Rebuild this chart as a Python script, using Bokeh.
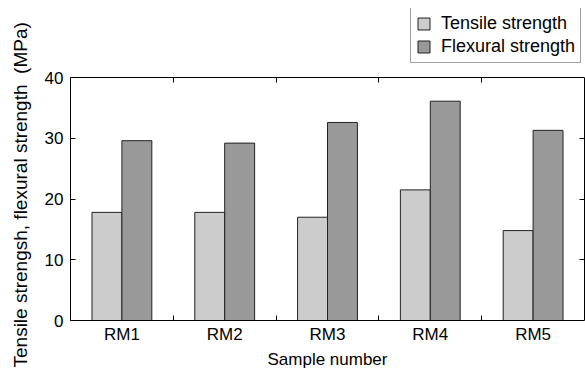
from bokeh.plotting import figure
from bokeh.models import (Range1d, LinearAxis, FixedTicker, Legend, LegendItem,
                          ColumnDataSource, Title)
from bokeh.transform import dodge
from bokeh.embed import file_html
from bokeh.resources import INLINE

samples = ["RM1", "RM2", "RM3", "RM4", "RM5"]
tensile = [17.8, 17.8, 17.0, 21.5, 14.8]
flexural = [29.6, 29.2, 32.6, 36.1, 31.3]
y_ticks = [0, 10, 20, 30, 40]
y_max = 40

FONT = "Liberation Sans"
centers = [i + 0.5 for i in range(len(samples))]
bounds = [i for i in range(1, len(samples))]

# layout (pixels): axis box spans 77..320 vertically; frame extended upward so the
# legend (which lives inside the frame) can sit above the axis box
W, H = 585, 372
TOP_BORDER, BOTTOM_BORDER = 8, 52
box_top, box_bottom = 77, H - BOTTOM_BORDER
frame_h = box_bottom - TOP_BORDER
y_end = y_max * frame_h / (box_bottom - box_top)

src = ColumnDataSource(dict(x=centers, tensile=tensile, flexural=flexural, name=samples))

p = figure(width=W, height=H, output_backend="svg", toolbar_location=None,
           x_range=Range1d(0, len(samples)), y_range=Range1d(0, y_end),
           x_axis_location=None, y_axis_location=None,
           min_border_left=69, min_border_right=1, min_border_top=TOP_BORDER,
           min_border_bottom=BOTTOM_BORDER)
p.grid.visible = False
p.outline_line_color = None
p.background_fill_color = "white"
p.border_fill_color = "white"

bw = 0.291
r1 = p.vbar(x=dodge("x", -bw / 2, range=p.x_range), top="tensile", bottom=0, width=bw,
            source=src, fill_color="#cccccc", line_color="#222222", line_width=1)
r2 = p.vbar(x=dodge("x", bw / 2, range=p.x_range), top="flexural", bottom=0, width=bw,
            source=src, fill_color="#999999", line_color="#222222", line_width=1)

# bottom axis: labels at category centres, inward ticks at category boundaries
xb = LinearAxis(ticker=FixedTicker(ticks=centers, minor_ticks=bounds))
xb.major_label_overrides = {c: s for c, s in zip(centers, samples)}
xb.major_tick_line_color = None
xb.major_tick_in = 0
xb.major_tick_out = 0
xb.minor_tick_in = 5
xb.minor_tick_out = 0
xb.minor_tick_line_color = "black"
xb.axis_line_color = "black"
xb.major_label_text_font = FONT
xb.major_label_text_font_size = "17px"
xb.major_label_text_color = "black"
xb.major_label_text_line_height = 1.0
xb.major_label_standoff = 4
xb.axis_label = "Sample number"
xb.axis_label_text_font = FONT
xb.axis_label_text_font_size = "17px"
xb.axis_label_text_font_style = "normal"
xb.axis_label_text_color = "black"
xb.axis_label_text_line_height = 1.0
xb.axis_label_standoff = 3
p.add_layout(xb, "below")

# top edge of the axis box at y = 40 with inward ticks
xt = LinearAxis(ticker=FixedTicker(ticks=[], minor_ticks=bounds), fixed_location=y_max)
xt.minor_tick_in = 5
xt.minor_tick_out = 0
xt.minor_tick_line_color = "black"
xt.major_tick_line_color = None
xt.axis_line_color = "black"
xt.major_label_standoff = 0
p.add_layout(xt, "above")

# left axis
yl = LinearAxis(ticker=FixedTicker(ticks=y_ticks, minor_ticks=[]), bounds=(0, y_max))
yl.major_tick_in = 5
yl.major_tick_out = 0
yl.major_tick_line_color = "black"
yl.minor_tick_line_color = None
yl.axis_line_color = "black"
yl.major_label_text_font = FONT
yl.major_label_text_font_size = "17px"
yl.major_label_text_color = "black"
yl.major_label_standoff = 7
p.add_layout(yl, "left")

# y-axis title, placed relative to the axis box
ytitle = Title(text="Tensile strengsh, flexural strength \u00a0(MPa)", align="left",
               vertical_align="top", offset=-47, text_font=FONT, text_font_size="19px",
               text_font_style="normal", text_color="black", standoff=18)
p.add_layout(ytitle, "left")

# right edge with inward ticks
yr = LinearAxis(ticker=FixedTicker(ticks=[], minor_ticks=y_ticks[1:-1]), bounds=(0, y_max))
yr.minor_tick_in = 5
yr.minor_tick_out = 0
yr.minor_tick_line_color = "black"
yr.major_tick_line_color = None
yr.axis_line_color = "black"
yr.major_label_standoff = 0
p.add_layout(yr, "right")

legend = Legend(items=[LegendItem(label="Tensile strength", renderers=[r1]),
                       LegendItem(label="Flexural strength", renderers=[r2])],
                location=(340, box_bottom - 63))
legend.label_text_font = FONT
legend.label_text_font_size = "18px"
legend.label_text_color = "black"
legend.glyph_width = 15
legend.glyph_height = 15
legend.label_standoff = 10
legend.padding = 5
legend.spacing = 2
legend.margin = 0
legend.border_line_color = "#444444"
legend.border_line_width = 1
legend.background_fill_color = "white"
legend.background_fill_alpha = 1
p.add_layout(legend, "center")

open("out.html", "w").write(file_html(p, INLINE))
